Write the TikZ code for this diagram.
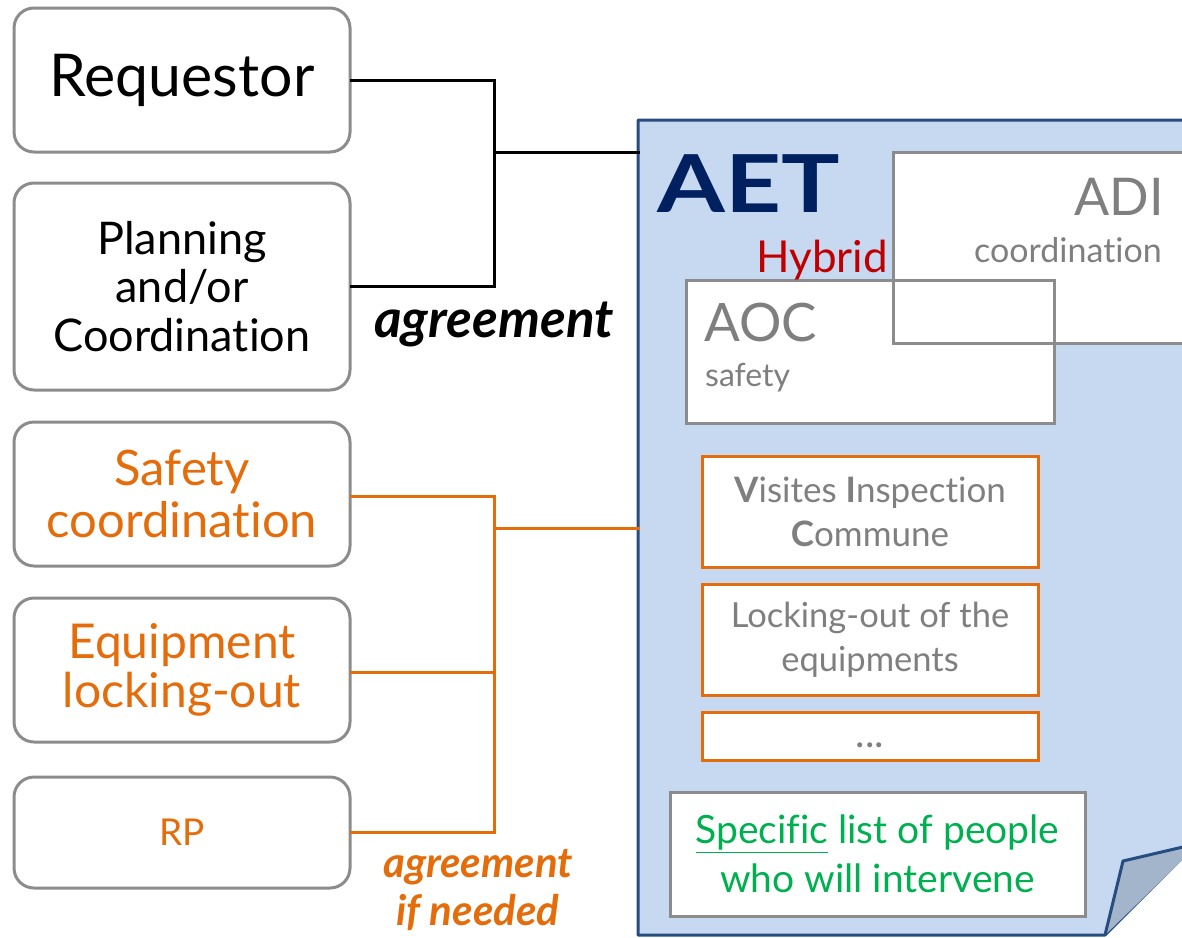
\documentclass[tikz,border=0pt]{standalone}
\usepackage{fontspec}
\setmainfont{Lato}[Ligatures={NoCommon}]
\usetikzlibrary{positioning}
\definecolor{boxgray}{HTML}{8C8C8C}
\definecolor{txtgray}{HTML}{7F7F7F}
\definecolor{orng}{HTML}{E46C0A}
\definecolor{pageblue}{HTML}{C6D9F0}
\definecolor{pageedge}{HTML}{264C80}
\definecolor{foldblue}{HTML}{A3B5CB}
\definecolor{navy}{HTML}{002060}
\definecolor{hyred}{HTML}{C00000}
\definecolor{grn}{HTML}{00B050}
\newcommand{\fs}[1]{\fontsize{#1}{1.15\dimexpr#1pt\relax}\selectfont}
\tikzset{
  actor/.style={draw=boxgray, line width=3pt, rounded corners=20pt, fill=white,
    minimum width=336pt, align=center, inner sep=0pt},
  link/.style={line width=3pt, line cap=rect},
  task/.style={draw=orng, line width=3pt, fill=white, minimum width=336pt,
    align=center, inner sep=0pt, text=txtgray},
}
\begin{document}
\begin{tikzpicture}[x=1pt,y=-1pt]
\useasboundingbox (0,0) rectangle (1182,937);
\clip (0,0) rectangle (1182,937);

% left column of actors
\node[actor, minimum height=144pt, font=\fs{59}] (req) at (182,80) {Requestor};
\node[actor, minimum height=207pt, font=\fs{45}] (plan) at (182,286.5) {Planning\\[-3pt]and/or\\[-3pt]Coordination};
\node[actor, minimum height=144pt, font=\fs{49}, text=orng] (saf) at (182,494) {Safety\\[-5pt]coordination};
\node[actor, minimum height=144pt, font=\fs{48}, text=orng] (equ) at (182,670) {Equipment\\[-6pt]locking-out};
\node[actor, minimum height=111pt, font=\fs{37}, text=orng] (rp) at (182,832.5) {RP};

% the AET document sheet with its curled corner
\fill[pageblue] (638,120) -- (1200,120) -- (1200,840) -- (1105,935) -- (638,935) -- cycle;
\draw[pageedge, line width=3pt, line join=round] (1200,120) -- (638,120) -- (638,935) -- (1105,935) -- (1200,840);
\draw[pageedge, line width=3pt, line join=round, fill=foldblue] (1105,935) -- (1123,861) -- (1200,843);
\coordinate (aetTop) at (638,152);
\coordinate (aetLow) at (638,528);

\node[anchor=west, inner sep=0pt, text=navy, font=\fs{80}\bfseries] (aet) at (657,184) {\scalebox{1.22}[1]{AET}};

% ADI and AOC teams (fills first, then outlines so both borders show)
\fill[white] (893,152) rectangle (1200,343);
\fill[white] (686,280) rectangle (1054,423);
\draw[boxgray, line width=3pt] (893,152) rectangle (1200,343);
\draw[boxgray, line width=3pt] (686,280) rectangle (1054,423);
\node[anchor=east, inner sep=0pt, text=txtgray, font=\fs{52}] (adi) at (1164,197) {ADI};
\node[anchor=east, inner sep=0pt, text=txtgray, font=\fs{34}] (adic) at (1162,250) {coordination};
\node[anchor=west, inner sep=0pt, text=txtgray, font=\fs{53}] (aoc) at (704,323) {AOC};
\node[anchor=west, inner sep=0pt, text=txtgray, font=\fs{32}] (aocs) at (705,378) {safety};
\node[anchor=base, inner sep=0pt, text=hyred, font=\fs{44}] (hyb) at (822,272) {Hybrid};

% tasks carried out inside the AET
\node[task, minimum height=111pt, font=\fs{35}] (vic) at (870,511.5) {\textbf{V}isites \textbf{I}nspection\\[4pt]\textbf{C}ommune};
\node[task, minimum height=111pt, font=\fs{34.5}] (lock) at (870,639.5) {Locking-out of the\\[4pt]equipments};
\node[task, minimum height=48pt] (more) at (870,736) {};
\node[anchor=base, inner sep=0pt, text=txtgray, font=\fs{40}] (dots) at (870,747) {...};

\node[draw=boxgray, line width=3pt, fill=white, minimum width=415pt, minimum height=124pt,
  align=center, inner sep=0pt, text=grn, font=\fs{39}] (spec) at (877.5,854)
  {\underline{Specific} list of people\\[4pt]who will intervene};

% agreement links
\coordinate (bj) at (494,152);
\draw[link] (req.east) -| (bj);
\draw[link] (plan.east) -| (bj);
\draw[link] (bj) -- (aetTop);
\node[inner sep=0pt, font=\fs{53}\bfseries\itshape] (agr) at (494,324) {agreement};

\coordinate (oj) at (494,528);
\draw[link, orng] (saf.east |- 496,496) -| (oj);
\draw[link, orng] (equ.east |- 672,672) -| (oj);
\draw[link, orng] (rp.east) -| (oj);
\draw[link, orng] (oj) -- (aetLow);
\node[inner sep=0pt, align=center, text=orng, font=\fs{42}\bfseries\itshape] (agr2) at (478,890) {agreement\\[0pt]if needed};
\end{tikzpicture}
\end{document}
